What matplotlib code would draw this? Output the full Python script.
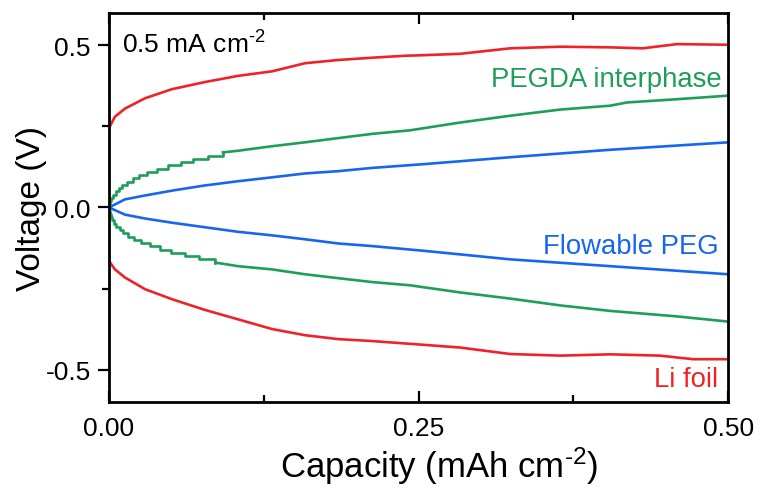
import matplotlib
matplotlib.use("Agg")
import matplotlib.pyplot as plt
from matplotlib.ticker import MultipleLocator, FormatStrFormatter

plt.rcParams['font.family'] = ['Liberation Sans', 'DejaVu Sans']
plt.rcParams['mathtext.fontset'] = 'custom'
plt.rcParams['mathtext.rm'] = 'Liberation Sans'
plt.rcParams['mathtext.it'] = 'Liberation Sans:italic'

# Li foil (plating / stripping)
li_up_cap = [0, 0.0048, 0.0129, 0.0291, 0.0509, 0.0775, 0.1042, 0.1317, 0.1583, 0.185,
             0.2124, 0.2387, 0.2553, 0.2835, 0.324, 0.3643, 0.4047, 0.431, 0.4588, 0.5]
li_up_v = [0.245, 0.28, 0.305, 0.337, 0.365, 0.387, 0.406, 0.42, 0.445, 0.455,
           0.462, 0.468, 0.47, 0.474, 0.491, 0.496, 0.494, 0.491, 0.504, 0.502]
li_dn_cap = [0, 0.0048, 0.0129, 0.0291, 0.0509, 0.0775, 0.1042, 0.1317, 0.1583, 0.185,
             0.2124, 0.2553, 0.2835, 0.324, 0.3643, 0.4047, 0.445, 0.4717, 0.5]
li_dn_v = [-0.165, -0.191, -0.216, -0.252, -0.283, -0.316, -0.345, -0.375, -0.394, -0.406,
           -0.412, -0.424, -0.432, -0.452, -0.457, -0.453, -0.457, -0.468, -0.468]

# Flowable PEG
peg_cap = [0, 0.0129, 0.0291, 0.0509, 0.0775, 0.1042, 0.1317, 0.1583, 0.185, 0.2124,
           0.2553, 0.324, 0.4047, 0.5]
peg_up_v = [0, 0.025, 0.037, 0.052, 0.068, 0.081, 0.093, 0.105, 0.112, 0.122,
            0.134, 0.155, 0.178, 0.201]
peg_dn_v = [0, -0.022, -0.034, -0.047, -0.061, -0.075, -0.086, -0.098, -0.111, -0.119,
            -0.134, -0.160, -0.181, -0.206]

# PEGDA interphase: early part recorded in 10 mV steps
pegda_up_step_cap = [0, 0.0004, 0.0009, 0.0016, 0.0030, 0.0055, 0.0078, 0.0105, 0.0145,
                     0.019, 0.024, 0.031, 0.039, 0.048, 0.058, 0.068, 0.080, 0.092]
pegda_up_step_v = [0, 0.01, 0.02, 0.03, 0.04, 0.05, 0.06, 0.07, 0.08,
                   0.09, 0.10, 0.11, 0.12, 0.13, 0.14, 0.15, 0.16, 0.17]
pegda_up_cap = [0.092, 0.1042, 0.1317, 0.1583, 0.185, 0.2124, 0.243, 0.2835, 0.324, 0.3643,
                0.4047, 0.4184, 0.4588, 0.5]
pegda_up_v = [0.17, 0.175, 0.189, 0.201, 0.214, 0.227, 0.238, 0.262, 0.283, 0.302,
              0.314, 0.324, 0.334, 0.345]
pegda_dn_step_cap = [0, 0.0003, 0.0008, 0.0015, 0.0025, 0.0040, 0.0060, 0.0085, 0.0115,
                     0.0155, 0.020, 0.026, 0.033, 0.041, 0.050, 0.061, 0.073, 0.086]
pegda_dn_step_v = [0, -0.01, -0.02, -0.03, -0.04, -0.05, -0.06, -0.07, -0.08,
                   -0.09, -0.10, -0.11, -0.12, -0.13, -0.14, -0.15, -0.16, -0.17]
pegda_dn_cap = [0.086, 0.1042, 0.1317, 0.1583, 0.185, 0.2124, 0.243, 0.2835, 0.324, 0.3643,
                0.4047, 0.4588, 0.5]
pegda_dn_v = [-0.17, -0.181, -0.191, -0.206, -0.218, -0.230, -0.240, -0.262, -0.281, -0.302,
              -0.319, -0.336, -0.352]

RED = '#EE2328'
GREEN = '#1E9E5A'
BLUE = '#1766EE'
LW = 1.9

fig = plt.figure(figsize=(7.6, 4.89), dpi=100)
ax = fig.add_axes([0.1434, 0.1759, 0.8146, 0.7955])

ax.plot(li_up_cap, li_up_v, color=RED, lw=LW)
ax.plot(li_dn_cap, li_dn_v, color=RED, lw=LW)
ax.plot(peg_cap, peg_up_v, color=BLUE, lw=LW)
ax.plot(peg_cap, peg_dn_v, color=BLUE, lw=LW)
ax.plot(pegda_up_step_cap, pegda_up_step_v, color=GREEN, lw=LW, drawstyle='steps-post')
ax.plot(pegda_up_cap, pegda_up_v, color=GREEN, lw=LW)
ax.plot(pegda_dn_step_cap, pegda_dn_step_v, color=GREEN, lw=LW, drawstyle='steps-post')
ax.plot(pegda_dn_cap, pegda_dn_v, color=GREEN, lw=LW)

ax.set_xlim(0, 0.5)
ax.set_ylim(-0.6, 0.6)
ax.xaxis.set_major_locator(MultipleLocator(0.25))
ax.xaxis.set_minor_locator(MultipleLocator(0.125))
ax.yaxis.set_major_locator(MultipleLocator(0.5))
ax.yaxis.set_minor_locator(MultipleLocator(0.25))
ax.xaxis.set_major_formatter(FormatStrFormatter('%.2f'))
ax.yaxis.set_major_formatter(FormatStrFormatter('%.1f'))

for s in ax.spines.values():
    s.set_linewidth(2.0)
ax.tick_params(axis='x', which='both', direction='in', top=True, bottom=True,
               width=1.6, labelsize=19, pad=10)
ax.tick_params(axis='x', which='major', length=8)
ax.tick_params(axis='x', which='minor', length=5)
ax.tick_params(axis='y', which='both', direction='out', left=True, right=False,
               width=1.6, labelsize=19, pad=5)
ax.tick_params(axis='y', which='major', length=8)
ax.tick_params(axis='y', which='minor', length=5)

ax.set_xlabel(r'Capacity (mAh cm$^{\text{-2}}$)', fontsize=25, labelpad=3)
ax.xaxis.label.set_x(0.533)
ax.set_ylabel('Voltage (V)', fontsize=24, labelpad=-1)

ax.text(0.021, 0.897, r'0.5 mA cm$^{\text{-2}}$', transform=ax.transAxes,
        fontsize=19, ha='left', va='baseline', color='black')
ax.text(0.990, 0.812, 'PEGDA interphase', transform=ax.transAxes,
        fontsize=19.8, ha='right', va='baseline', color=GREEN)
ax.text(0.985, 0.383, 'Flowable PEG', transform=ax.transAxes,
        fontsize=19.8, ha='right', va='baseline', color=BLUE)
ax.text(0.984, 0.041, 'Li foil', transform=ax.transAxes,
        fontsize=19.8, ha='right', va='baseline', color=RED)

fig.savefig('out.png', dpi=100)
